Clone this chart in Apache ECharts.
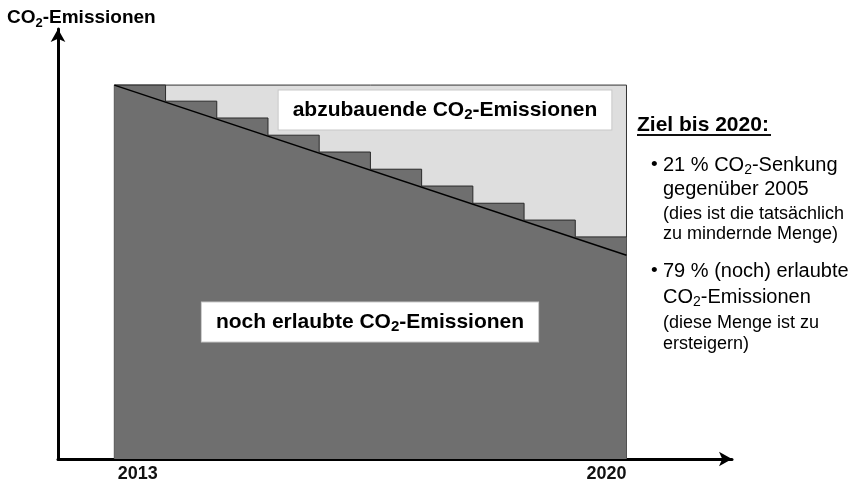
<!DOCTYPE html>
<html>
<head>
<meta charset="utf-8">
<script src="https://cdn.jsdelivr.net/npm/echarts@6/dist/echarts.min.js"></script>
<style>
  html, body { margin: 0; padding: 0; background: #fff; }
  #chart { width: 862px; height: 485px; }
</style>
</head>
<body>
<div id="chart"></div>
<script>
// x = allocation step (0 = 2013, 10 = 2020), y = share of 2013 emissions
const steps = [0, 1, 2, 3, 4, 5, 6, 7, 8, 9, 10];
const allowed = [100, 95.7, 91.2, 86.6, 82.1, 77.5, 73.0, 68.4, 63.9, 59.4, 59.4];
const pathX = [0, 10];
const pathY = [100, 54.5];
const frameX = [0, 0, 10, 10];
const frameY = [0, 100, 100, 0];
const yearTicks = [0, 10];
const yearLabels = ["2013", "2020"];

const FONT = "Liberation Sans, Arial, sans-serif";
const INK = "#111";

// rich styles: n = normal text, s = subscript
function richFor(size, weight) {
  const lh = Math.round(size * 1.2);
  return {
    n: { fontSize: size, fontWeight: weight, fontFamily: FONT, color: INK, lineHeight: lh },
    s: {
      fontSize: Math.round(size * 0.7),
      fontWeight: weight,
      fontFamily: FONT,
      color: INK,
      lineHeight: Math.round(lh - size * 0.54),
      verticalAlign: "bottom",
    },
  };
}

function co2Text(str) {
  const parts = str.split("CO2");
  let out = "";
  parts.forEach((p, i) => {
    if (i > 0) out += "{n|CO}{s|2}";
    if (p) out += "{n|" + p + "}";
  });
  return out;
}

function label(x, y, str, size, weight, extra) {
  return {
    type: "text",
    x: x,
    y: y,
    z: 100,
    style: Object.assign(
      {
        text: co2Text(str),
        rich: richFor(size, weight),
        align: "left",
        verticalAlign: "middle",
      },
      extra || {}
    ),
  };
}

const boxStyle = {
  align: "center",
  backgroundColor: "#fff",
  borderColor: "#c8c8c8",
  borderWidth: 1,
  padding: [7, 14],
};

const chart = echarts.init(document.getElementById("chart"));

chart.setOption({
  animation: false,
  backgroundColor: "#fff",
  grid: { left: 58, right: 130, top: 29, bottom: 26 },
  xAxis: {
    type: "value",
    min: -1.1,
    max: 12.06,
    axisLine: {
      onZero: false,
      symbol: ["none", "arrow"],
      symbolSize: [11, 13],
      lineStyle: { color: "#000", width: 3 },
    },
    axisTick: { show: false },
    splitLine: { show: false },
    axisLabel: {
      customValues: yearTicks,
      margin: 6,
      formatter: (v) => {
        const i = yearTicks.indexOf(v);
        return i === 0 ? "{a|" + yearLabels[0] + "}" : "{b|" + yearLabels[i] + "}";
      },
      rich: {
        a: { fontSize: 18, fontWeight: "bold", fontFamily: FONT, color: INK, padding: [0, 0, 0, 47] },
        b: { fontSize: 18, fontWeight: "bold", fontFamily: FONT, color: INK, padding: [0, 40, 0, 0] },
      },
    },
  },
  yAxis: {
    type: "value",
    min: 0,
    max: 115,
    axisLine: {
      show: true,
      onZero: false,
      symbol: ["none", "arrow"],
      symbolSize: [11, 13],
      lineStyle: { color: "#000", width: 3 },
    },
    axisTick: { show: false },
    axisLabel: { show: false },
    splitLine: { show: false },
  },
  series: [
    {
      name: "abzubauende CO2-Emissionen",
      type: "line",
      z: 1,
      data: frameX.map((x, i) => [x, frameY[i]]),
      showSymbol: false,
      lineStyle: { color: "#333", width: 1 },
      areaStyle: { color: "#dedede", opacity: 1 },
    },
    {
      name: "noch erlaubte CO2-Emissionen",
      type: "line",
      z: 2,
      step: "end",
      data: steps.map((x, i) => [x, allowed[i]]),
      showSymbol: false,
      lineStyle: { color: "#2a2a2a", width: 1 },
      areaStyle: { color: "#6f6f6f", opacity: 1 },
    },
    {
      name: "Zielpfad",
      type: "line",
      z: 3,
      data: pathX.map((x, i) => [x, pathY[i]]),
      showSymbol: false,
      lineStyle: { color: "#000", width: 1.5 },
    },
  ],
  graphic: [
    label(7, 18, "CO2-Emissionen", 19, "bold"),
    label(445, 110, "abzubauende CO2-Emissionen", 21, "bold", boxStyle),
    label(370, 322, "noch erlaubte CO2-Emissionen", 21, "bold", boxStyle),
    label(637, 125, "Ziel bis 2020:", 21, "bold"),
    {
      type: "line",
      z: 100,
      shape: { x1: 637, y1: 135, x2: 771, y2: 135 },
      style: { stroke: INK, lineWidth: 2 },
    },
    label(651, 165, "•", 19, "normal"),
    label(663, 165, "21 % CO2-Senkung", 20, "normal"),
    label(663, 189, "gegenüber 2005", 20, "normal"),
    label(663, 214, "(dies ist die tatsächlich", 18, "normal"),
    label(663, 234, "zu mindernde Menge)", 18, "normal"),
    label(651, 271, "•", 19, "normal"),
    label(663, 271, "79 % (noch) erlaubte", 20, "normal"),
    label(663, 297, "CO2-Emissionen", 20, "normal"),
    label(663, 323, "(diese Menge ist zu", 18, "normal"),
    label(663, 344, "ersteigern)", 18, "normal"),
  ],
});
</script>
</body>
</html>
